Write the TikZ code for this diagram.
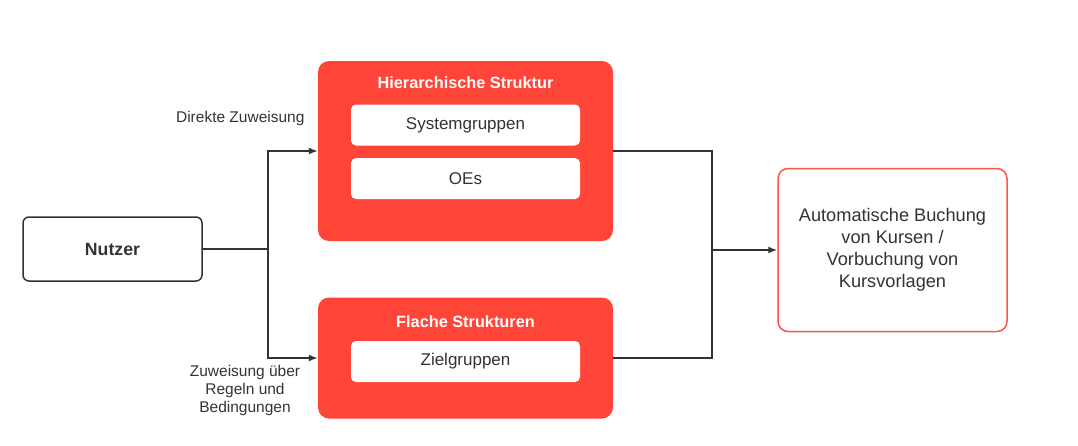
\documentclass[tikz,border=0pt]{standalone}
\usepackage{fontspec}
\setmainfont{Liberation Sans}
\usetikzlibrary{arrows.meta}
\definecolor{redbox}{HTML}{FF4538}
\definecolor{redline}{HTML}{FF5549}
\definecolor{darkline}{HTML}{333333}
\begin{document}
\begin{tikzpicture}
[
x=1pt, y=-1pt,
userbox/.style={rectangle, rounded corners=6pt, draw=darkline, line width=1.5pt, fill=white, minimum width=179pt, minimum height=64pt, font=\fontsize{17.7}{20}\selectfont\bfseries, text=darkline},
groupbox/.style={rectangle, rounded corners=11pt, draw=none, fill=redbox, minimum width=295pt},
title/.style={text=white, font=\fontsize{16.3}{19}\selectfont\bfseries},
item/.style={rectangle, rounded corners=5pt, fill=white, minimum width=229pt, minimum height=41pt, font=\fontsize{17}{20}\selectfont, text=darkline},
result/.style={rectangle, rounded corners=10pt, draw=redline, line width=1.5pt, fill=white, minimum width=229pt, minimum height=163pt, align=center, font=\fontsize{18.2}{22}\selectfont, text=darkline},
label/.style={font=\fontsize{15.5}{18}\selectfont, text=darkline, align=center},
link/.style={draw=darkline, line width=1.6pt},
linkarrow/.style={link, -{Latex[length=9pt,width=7pt]}},
]

\useasboundingbox (0,0) rectangle (1078,445);

\node at (112.5,249) [userbox] (nutzer) {Nutzer};

\node at (465.5,151) [groupbox, minimum height=180pt] (hier) {};
\node at (465.5,83) [title] (hiertitle) {Hierarchische Struktur};
\node at (465.5,125) [item] (system) {Systemgruppen};
\node at (465.5,178.5) [item] (oes) {OEs};

\node at (465.5,358) [groupbox, minimum height=121pt] (flach) {};
\node at (465.5,322) [title] (flachtitle) {Flache Strukturen};
\node at (465.5,361.5) [item] (ziel) {Zielgruppen};

\node at (892.5,250) [result] (buchung) {Automatische Buchung\\von Kursen /\\Vorbuchung von\\Kursvorlagen};

\node at (308,118) [label, anchor=east] (direkt) {Direkte Zuweisung};
\node at (245,390) [label] (regeln) {Zuweisung über\\Regeln und\\Bedingungen};

\coordinate (split) at (268,249);
\coordinate (join) at (712,250);

\draw[link] (nutzer.east) -- (split);
\draw[linkarrow] (split) |- (hier.west);
\draw[linkarrow] (split) |- (flach.west);

\draw[link] (hier.east) -| (join);
\draw[link] (flach.east) -| (join);
\draw[linkarrow] (join) -- (buchung.west);

\end{tikzpicture}
\end{document}
